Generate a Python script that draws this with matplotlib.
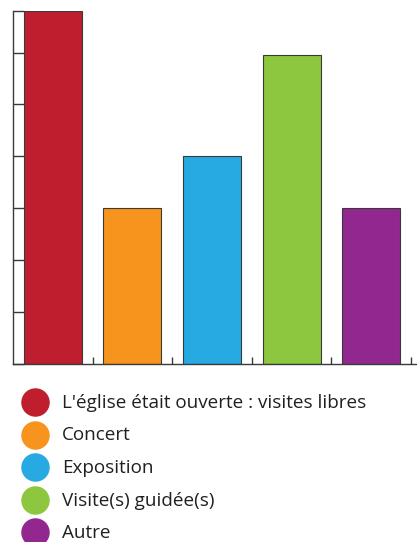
import matplotlib.pyplot as plt
from matplotlib.lines import Line2D

# Données du graphique
categories = ["L'église était ouverte : visites libres", "Concert", "Exposition",
              "Visite(s) guidée(s)", "Autre"]
valeurs = [34, 15, 20, 29.8, 15]
couleurs = ["#BE1E2D", "#F7941D", "#27AAE1", "#8DC63F", "#92278F"]

W, H = 417, 542
fig = plt.figure(figsize=(W / 100, H / 100), dpi=100)
plt.rcParams['font.family'] = ['Open Sans', 'DejaVu Sans']

# Axe positionné en pixels
x0, x1, y_top, y_bas = 13, 417, 11, 364
ax = fig.add_axes([x0 / W, (H - y_bas) / H, (x1 - x0) / W, (y_bas - y_top) / H])

pos = list(range(len(valeurs)))
ax.bar(pos, valeurs, width=0.73, color=couleurs, edgecolor="#3a3a3a", linewidth=0.8)

ax.set_xlim(-0.5, 4.575)
ax.set_ylim(0, 34)
ax.spines['top'].set_visible(False)
ax.spines['right'].set_visible(False)
for s in ('left', 'bottom'):
    ax.spines[s].set_color("#3a3a3a")
    ax.spines[s].set_linewidth(1.0)

ax.set_yticks([0, 5, 10, 15, 20, 25, 30, 34])
ax.set_xticks([i + 0.5 for i in range(len(valeurs))])
ax.tick_params(axis='y', direction='in', length=8, width=1.0, color="#3a3a3a", labelleft=False)
ax.tick_params(axis='x', direction='in', length=5, width=1.0, color="#3a3a3a", labelbottom=False)

# Légende dessinée à la main
for i, (lab, c) in enumerate(zip(categories, couleurs)):
    yc = 402 + i * 32.5
    fig.add_artist(Line2D([35 / W], [1 - yc / H], marker='o', markersize=19.5,
                          color=c, linestyle='none', transform=fig.transFigure))
    fig.text(62 / W, 1 - (yc + 6) / H, lab, fontsize=13.6, color="#231F20",
             va='baseline', ha='left')

fig.savefig("out.png", dpi=100)
